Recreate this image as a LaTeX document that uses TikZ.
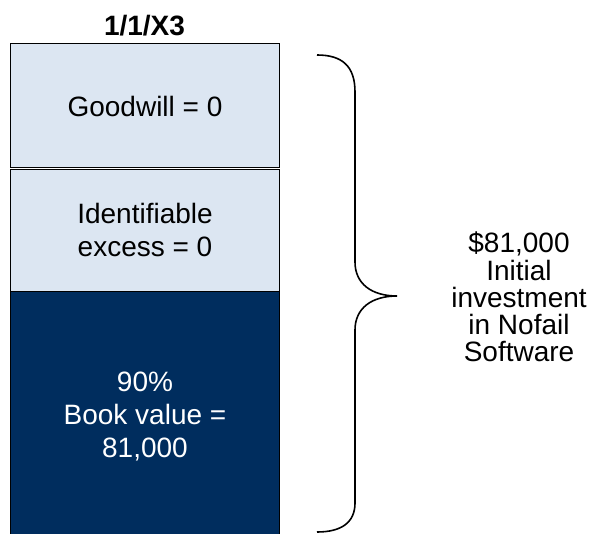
\documentclass[tikz,border=0pt]{standalone}
\usepackage{fontspec}
\setmainfont{Liberation Sans}
\definecolor{paleblue}{HTML}{DCE6F2}
\definecolor{navy}{HTML}{002D5E}
\begin{document}
\begin{tikzpicture}[x=1pt, y=-1pt,
  panel/.style={draw=black, line width=0.9pt},
  boxtext/.style={font=\fontsize{28}{33}\selectfont, align=center, inner sep=0pt, anchor=base},
  sidetext/.style={font=\fontsize{28}{27.3}\selectfont, align=center, inner sep=0pt, anchor=base},
  bracestroke/.style={draw=black, line width=1.6pt}]
  \useasboundingbox (0,0) rectangle (594,534);

  % stacked value blocks
  \path[panel, fill=paleblue] (10.7,43) rectangle (279.3,167);
  \path[panel, fill=paleblue] (10.7,169) rectangle (279.3,291.5);
  \path[panel, fill=navy] (10.7,291.5) rectangle (279.3,536);

  % heading and block labels
  \node[boxtext, font=\fontsize{28}{33}\selectfont\bfseries] (date) at (144.5,36) {1/1/X3};
  \node[boxtext] (goodwill) at (145,116.7) {Goodwill = 0};
  \node[boxtext] (excess) at (145,256.7) {Identifiable\\excess = 0};
  \node[boxtext, text=white] (book) at (145,457.7) {90\%\\Book value =\\81,000};

  % curly brace spanning the blocks
  \coordinate (tip) at (397,296);
  \path[bracestroke] (317,55) .. controls (342,55) and (355,66) .. (355,92)
    -- (355,262) .. controls (355,284) and (372,296) .. (tip)
    .. controls (372,296) and (355,308) .. (355,330)
    -- (355,503) .. controls (355,522) and (342,532) .. (317,532);

  % total investment label
  \node[sidetext] (invest) at (519,362) {\$81,000\\Initial\\investment\\in Nofail\\Software};
\end{tikzpicture}
\end{document}
